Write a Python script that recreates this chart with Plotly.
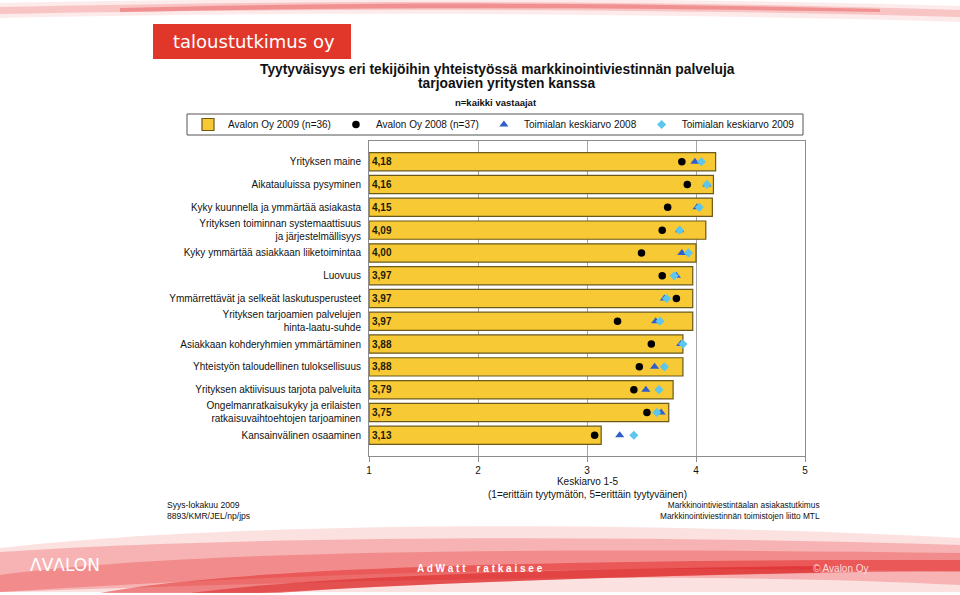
import plotly.graph_objects as go

categories = [
    "Yrityksen maine",
    "Aikatauluissa pysyminen",
    "Kyky kuunnella ja ymmärtää asiakasta",
    "Yrityksen toiminnan systemaattisuus<br>ja järjestelmällisyys",
    "Kyky ymmärtää asiakkaan liiketoimintaa",
    "Luovuus",
    "Ymmärrettävät ja selkeät laskutusperusteet",
    "Yrityksen tarjoamien palvelujen<br>hinta-laatu-suhde",
    "Asiakkaan kohderyhmien ymmärtäminen",
    "Yhteistyön taloudellinen tuloksellisuus",
    "Yrityksen aktiivisuus tarjota palveluita",
    "Ongelmanratkaisukyky ja erilaisten<br>ratkaisuvaihtoehtojen tarjoaminen",
    "Kansainvälinen osaaminen",
]
avalon_2009 = [4.18, 4.16, 4.15, 4.09, 4.00, 3.97, 3.97, 3.97, 3.88, 3.88, 3.79, 3.75, 3.13]
avalon_2008 = [3.87, 3.92, 3.74, 3.69, 3.50, 3.69, 3.82, 3.28, 3.59, 3.48, 3.43, 3.55, 3.07]
industry_2008 = [3.99, 4.10, 4.01, 3.85, 3.87, 3.82, 3.71, 3.63, 3.86, 3.62, 3.54, 3.68, 3.30]
industry_2009 = [4.05, 4.10, 4.03, 3.85, 3.93, 3.80, 3.73, 3.67, 3.88, 3.71, 3.66, 3.64, 3.43]
x_ticks = [1, 2, 3, 4, 5]

FONT = "Liberation Sans, Arial, sans-serif"

# plot area in pixels
L, R, T, B = 369, 805, 141, 456
W, H = 960, 595


def px(x):
    return (x - L) / (R - L)


def py(y):
    return (B - y) / (B - T)


def P(x, y):
    return f"{px(x):.5f},{py(y):.5f}"


fig = go.Figure()

fig.add_trace(go.Bar(
    y=categories,
    x=[v - 1 for v in avalon_2009],
    base=1,
    orientation="h",
    width=0.8,
    marker=dict(color="#F7C934", line=dict(color="#6B5A1A", width=1.2)),
    text=["<b>" + f"{v:.2f}".replace(".", ",") + "</b>" for v in avalon_2009],
    textposition="inside",
    insidetextanchor="start",
    textfont=dict(family=FONT, size=10, color="#1E1A0A"),
    constraintext="none",
    name="Avalon Oy 2009 (n=36)",
    cliponaxis=False,
))

fig.add_trace(go.Scatter(
    y=categories, x=avalon_2008, mode="markers",
    marker=dict(symbol="circle", size=7.5, color="#000000"),
    name="Avalon Oy 2008 (n=37)",
))
fig.add_trace(go.Scatter(
    y=categories, x=industry_2008, mode="markers",
    marker=dict(symbol="triangle-up", size=8, color="#2F5FCB"),
    name="Toimialan keskiarvo 2008",
))
fig.add_trace(go.Scatter(
    y=categories, x=industry_2009, mode="markers",
    marker=dict(symbol="diamond", size=7, color="#5CC6EE"),
    name="Toimialan keskiarvo 2009",
))

shapes = []
# legend box
shapes.append(dict(type="rect", xref="paper", yref="paper",
                   x0=px(187), x1=px(803), y0=py(135), y1=py(114),
                   line=dict(color="#555555", width=1), fillcolor="rgba(0,0,0,0)"))
# logo box
shapes.append(dict(type="rect", xref="paper", yref="paper",
                   x0=px(153), x1=px(351), y0=py(59), y1=py(24),
                   line=dict(width=0), fillcolor="#E1372B"))

# top swoosh
shapes.append(dict(type="path", xref="paper", yref="paper", layer="below",
                   path=f"M {P(0,3)} C {P(300,-3)} {P(650,-3)} {P(960,6)} L {P(960,22)} C {P(650,13)} {P(300,11)} {P(0,18)} Z",
                   fillcolor="rgba(240,120,120,0.15)", line=dict(width=0)))
shapes.append(dict(type="path", xref="paper", yref="paper", layer="below",
                   path=f"M {P(0,7)} C {P(300,0)} {P(650,0)} {P(960,10)} L {P(960,17)} C {P(650,8)} {P(300,8)} {P(0,14)} Z",
                   fillcolor="rgba(235,80,80,0.25)", line=dict(width=0)))
shapes.append(dict(type="path", xref="paper", yref="paper", layer="below",
                   path=f"M {P(120,8)} C {P(350,2)} {P(600,2)} {P(880,9)} L {P(880,12)} C {P(600,7)} {P(350,7)} {P(120,12)} Z",
                   fillcolor="rgba(225,50,50,0.35)", line=dict(width=0)))

# bottom swoosh
shapes.append(dict(type="path", xref="paper", yref="paper", layer="below",
                   path=f"M {P(0,548)} C {P(250,520)} {P(650,522)} {P(960,538)} L {P(960,592)} L {P(0,592)} Z",
                   fillcolor="rgba(245,170,170,0.35)", line=dict(width=0)))
shapes.append(dict(type="path", xref="paper", yref="paper", layer="below",
                   path=f"M {P(0,552)} C {P(250,535)} {P(650,535)} {P(960,545)} L {P(960,585)} C {P(700,572)} {P(400,578)} {P(0,592)} Z",
                   fillcolor="rgba(238,95,95,0.35)", line=dict(width=0)))
shapes.append(dict(type="path", xref="paper", yref="paper", layer="below",
                   path=f"M {P(0,575)} C {P(200,548)} {P(600,548)} {P(960,553)} L {P(960,572)} C {P(650,565)} {P(350,570)} {P(0,592)} Z",
                   fillcolor="rgba(232,70,70,0.35)", line=dict(width=0)))
shapes.append(dict(type="path", xref="paper", yref="paper", layer="below",
                   path=f"M {P(100,593)} C {P(230,568)} {P(550,560)} {P(900,560)} L {P(960,560)} L {P(960,571)} C {P(650,573)} {P(380,586)} {P(260,593)} Z",
                   fillcolor="rgba(225,35,35,0.5)", line=dict(width=0)))
shapes.append(dict(type="path", xref="paper", yref="paper", layer="below",
                   path=f"M {P(190,593)} C {P(320,576)} {P(550,569)} {P(820,566)} L {P(820,573)} C {P(550,578)} {P(350,587)} {P(280,593)} Z",
                   fillcolor="rgba(215,20,20,0.45)", line=dict(width=0)))

annotations = [
    dict(text="taloustutkimus oy", x=px(171), y=py(41), xref="paper", yref="paper",
         xanchor="left", yanchor="middle", showarrow=False,
         font=dict(family="DejaVu Sans, sans-serif", size=18, color="white")),
    dict(text="<b>Tyytyväisyys eri tekijöihin yhteistyössä markkinointiviestinnän palveluja</b>",
         x=px(497), y=py(70), xref="paper", yref="paper", xanchor="center", yanchor="middle",
         showarrow=False, font=dict(family=FONT, size=13.8, color="#111111")),
    dict(text="<b>tarjoavien yritysten kanssa</b>",
         x=px(506), y=py(83), xref="paper", yref="paper", xanchor="center", yanchor="middle",
         showarrow=False, font=dict(family=FONT, size=13.8, color="#111111")),
    dict(text="<b>n=kaikki vastaajat</b>", x=px(496), y=py(102), xref="paper", yref="paper",
         xanchor="center", yanchor="middle", showarrow=False,
         font=dict(family=FONT, size=9.5, color="#111111")),
    dict(text="Keskiarvo 1-5<br>(1=erittäin tyytymätön, 5=erittäin tyytyväinen)",
         x=px(587), y=py(487.5), xref="paper", yref="paper", xanchor="center", yanchor="middle",
         showarrow=False, font=dict(family=FONT, size=10, color="#111111")),
    dict(text="Syys-lokakuu 2009<br>8893/KMR/JEL/np/jps", x=px(165), y=py(510), xref="paper", yref="paper",
         xanchor="left", yanchor="middle", align="left", showarrow=False,
         font=dict(family=FONT, size=8.6, color="#111111")),
    dict(text="Markkinointiviestintäalan asiakastutkimus<br>Markkinointiviestinnän toimistojen liitto MTL",
         x=px(822), y=py(510), xref="paper", yref="paper",
         xanchor="right", yanchor="middle", align="right", showarrow=False,
         font=dict(family=FONT, size=8.3, color="#111111")),
    dict(text="ΛVΛLON", x=px(28), y=py(565), xref="paper", yref="paper",
         xanchor="left", yanchor="middle", showarrow=False,
         font=dict(family="DejaVu Sans, sans-serif", size=17, color="white")),
    dict(text="<b>A d W a t t    r a t k a i s e e</b>", x=px(480), y=py(568), xref="paper", yref="paper",
         xanchor="center", yanchor="middle", showarrow=False,
         font=dict(family=FONT, size=10, color="white")),
    dict(text="© Avalon Oy", x=px(841), y=py(568), xref="paper", yref="paper",
         xanchor="center", yanchor="middle", showarrow=False,
         font=dict(family=FONT, size=10, color="rgba(255,235,235,0.9)")),
]

fig.update_layout(
    width=W, height=H,
    margin=dict(l=L, r=W - R, t=T, b=H - B, pad=0),
    paper_bgcolor="white",
    plot_bgcolor="white",
    font=dict(family=FONT, size=10, color="#111111"),
    barmode="overlay",
    showlegend=True,
    legend=dict(
        orientation="h", xref="paper", yref="paper",
        x=px(188), y=py(124.5), xanchor="left", yanchor="middle",
        font=dict(family=FONT, size=10, color="#111111"),
        bgcolor="rgba(0,0,0,0)", borderwidth=0,
        itemwidth=30, traceorder="normal",
    ),
    xaxis=dict(
        range=[1, 5], tickvals=x_ticks, ticktext=[str(t) for t in x_ticks],
        showgrid=True, gridcolor="#A6A6A6", gridwidth=1,
        showline=True, linecolor="#8C8C8C", linewidth=1, mirror=True,
        ticks="outside", ticklen=5, tickcolor="#8C8C8C",
        tickfont=dict(size=10), zeroline=False,
    ),
    yaxis=dict(
        categoryorder="array", categoryarray=categories, autorange="reversed",
        showline=True, linecolor="#8C8C8C", linewidth=1, mirror=True,
        ticks="", ticklabelstandoff=5, tickfont=dict(size=10),
        showgrid=False,
    ),
    shapes=shapes,
    annotations=annotations,
)

fig.write_html("out.html", config={"displayModeBar": False},
               post_script="document.body.style.margin='0px';")
